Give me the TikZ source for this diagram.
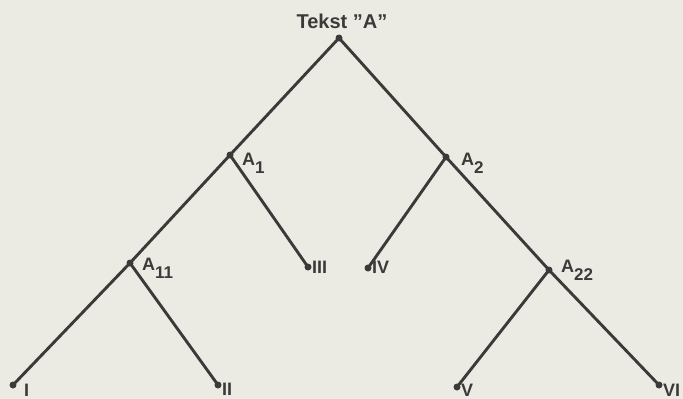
\documentclass[tikz,border=0pt]{standalone}
\usepackage{fontspec}
\setmainfont{Liberation Sans}
\definecolor{paper}{HTML}{ECEBE3}
\definecolor{ink}{HTML}{3A3A3A}
\newcommand{\subl}[1]{\raisebox{-8.5pt}{\fontsize{17}{17}\selectfont #1}}
\begin{document}
\begin{tikzpicture}[x=1pt,y=-1pt,
  dot/.style={circle,fill=ink,inner sep=0pt,minimum size=7pt},
  edge/.style={draw=ink,line width=2.9pt},
  lbl/.style={text=ink,font=\bfseries\fontsize{18}{18}\selectfont,inner sep=0pt,anchor=base west}]
\fill[paper] (0,0) rectangle (683,399);
\useasboundingbox (0,0) rectangle (683,399);
\node[dot] (r) at (339,38) {};
\node[dot] (a1) at (230,155) {};
\node[dot] (a2) at (446,157) {};
\node[dot] (a11) at (130,263) {};
\node[dot] (a22) at (549,270) {};
\node[dot] (n1) at (13,385) {};
\node[dot] (n2) at (218,385) {};
\node[dot] (n3) at (308,267) {};
\node[dot] (n4) at (368,268) {};
\node[dot] (n5) at (457,387) {};
\node[dot] (n6) at (659,385) {};
\draw[edge] (r.center) -- (a1.center) -- (a11.center) -- (n1.center);
\draw[edge] (r.center) -- (a2.center) -- (a22.center) -- (n6.center);
\draw[edge] (a1.center) -- (n3.center);
\draw[edge] (a11.center) -- (n2.center);
\draw[edge] (a2.center) -- (n4.center);
\draw[edge] (a22.center) -- (n5.center);
\node[lbl,anchor=base,font=\bfseries\fontsize{20}{20}\selectfont] (tr) at (342,28) {Tekst "A"};
\node[lbl] (t1) at (242,165) {A\subl{1}};
\node[lbl] (t2) at (461,165) {A\subl{2}};
\node[lbl] (t11) at (142,270) {A\subl{11}};
\node[lbl] (t22) at (561,272) {A\subl{22}};
\node[lbl] (l1) at (24,396) {I};
\node[lbl] (l2) at (222,395) {II};
\node[lbl] (l3) at (312,273) {III};
\node[lbl] (l4) at (372,273) {IV};
\node[lbl] (l5) at (461,396) {V};
\node[lbl] (l6) at (663,396) {VI};
\end{tikzpicture}
\end{document}
